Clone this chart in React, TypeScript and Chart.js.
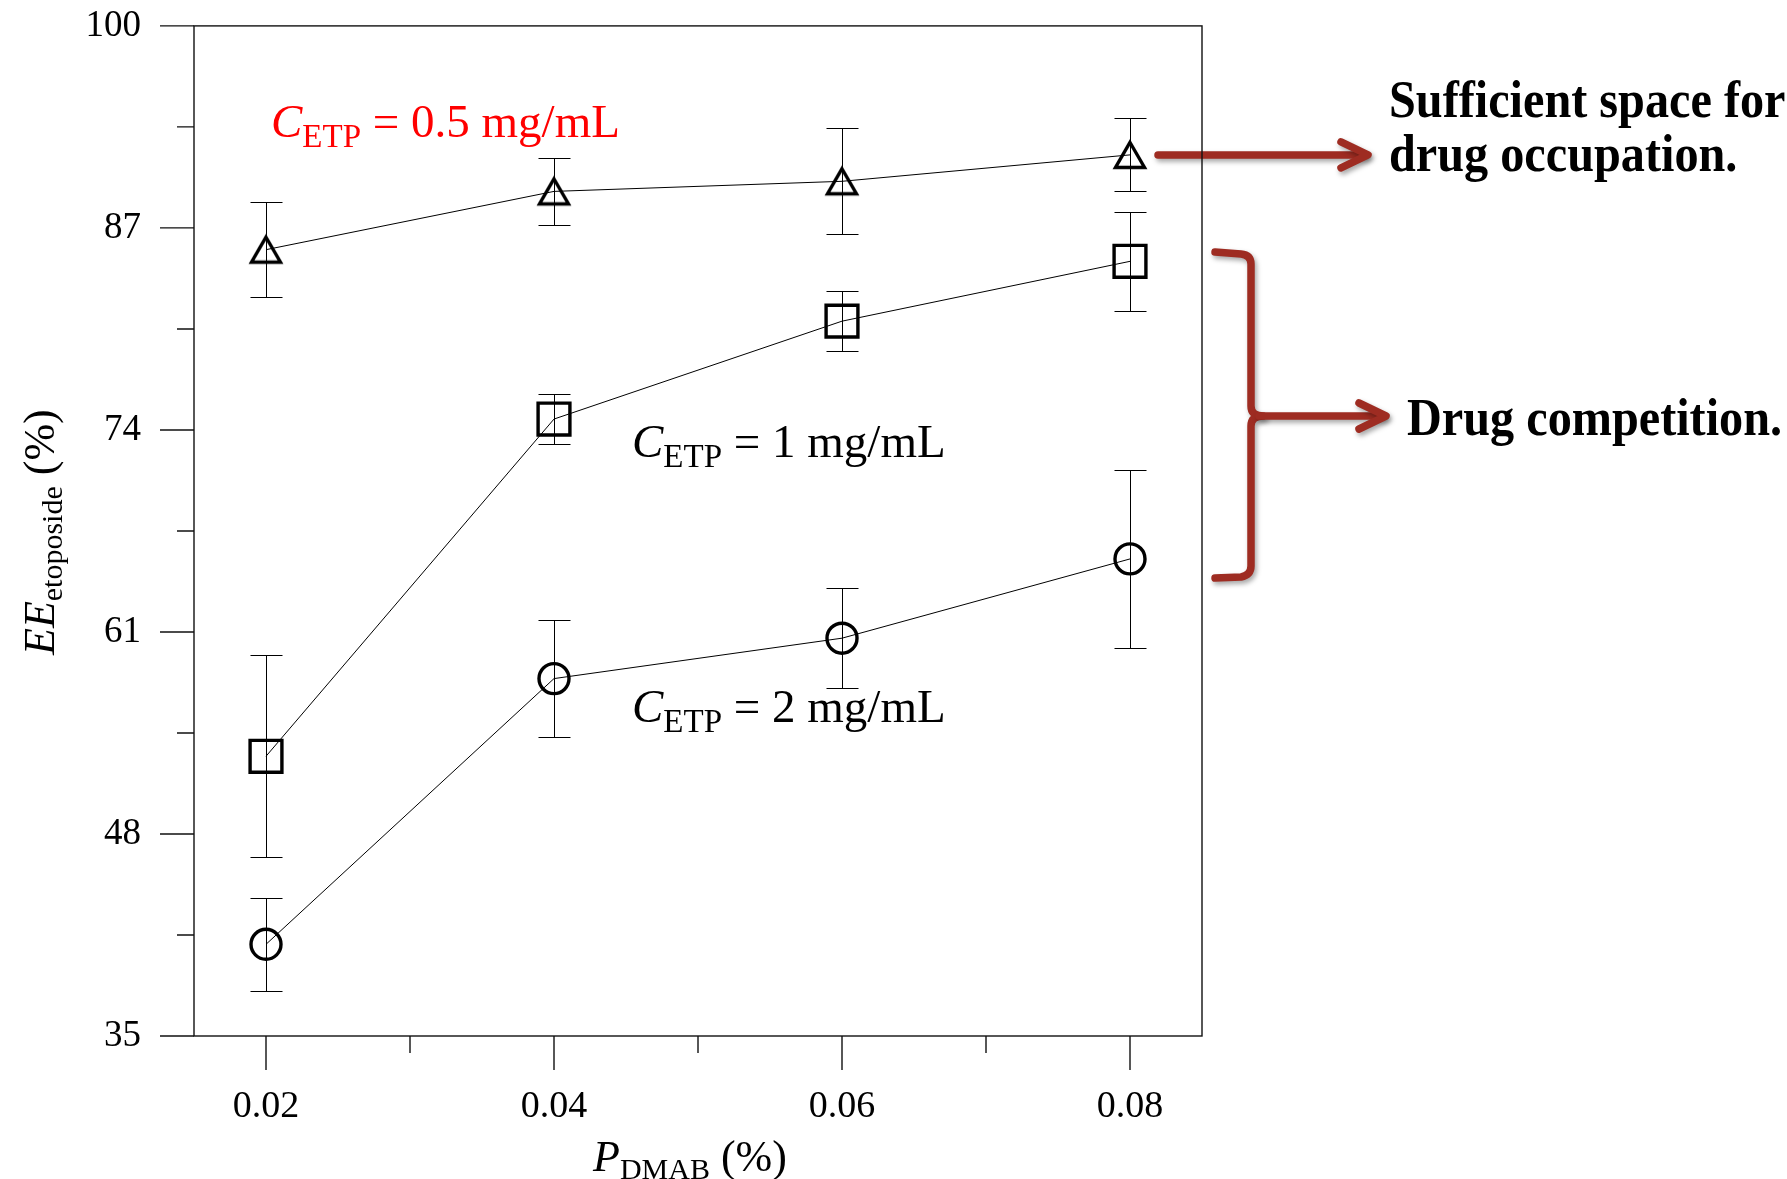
import React, { useEffect, useRef } from 'react';
import { Chart, registerables } from 'chart.js';

Chart.register(...registerables);

// Entrapment efficiency of etoposide vs. DMAB concentration
const pdmab = [0.02, 0.04, 0.06, 0.08];

const ee05 = [85.6, 89.35, 90.0, 91.7];
const err05 = [3.05, 2.15, 3.4, 2.35];

const ee1 = [53.0, 74.7, 81.0, 84.85];
const err1 = [6.5, 1.6, 1.95, 3.2];

const ee2 = [40.9, 58.0, 60.6, 65.7];
const err2 = [3.0, 3.75, 3.2, 5.75];

const xTickValues = [0.02, 0.03, 0.04, 0.05, 0.06, 0.07, 0.08];
const xTickLabels = ['0.02', '', '0.04', '', '0.06', '', '0.08'];
const yTickValues = [35, 41.5, 48, 54.5, 61, 67.5, 74, 80.5, 87, 93.5, 100];
const yTickLabels = ['35', '', '48', '', '61', '', '74', '', '87', '', '100'];

const seriesErrors = [err05, err1, err2];

const W = 1787;
const H = 1179;
const SERIF = '"Liberation Serif", "Times New Roman", serif';
const ACCENT = 'rgb(158,44,34)';

type Run = { text: string; font: string; dy?: number };

function drawRuns(ctx: CanvasRenderingContext2D, x: number, y: number, runs: Run[]) {
  let cx = x;
  for (const r of runs) {
    ctx.font = r.font;
    ctx.fillText(r.text, cx, y + (r.dy || 0));
    cx += ctx.measureText(r.text).width;
  }
}

function makeTriangle(): HTMLCanvasElement {
  const c = document.createElement('canvas');
  c.width = 46;
  c.height = 46;
  const g = c.getContext('2d')!;
  g.strokeStyle = '#000';
  g.lineWidth = 3.4;
  g.lineJoin = 'miter';
  g.beginPath();
  g.moveTo(23, 23 - 12.5);
  g.lineTo(23 + 14.5, 23 + 12.5);
  g.lineTo(23 - 14.5, 23 + 12.5);
  g.closePath();
  g.stroke();
  return c;
}

function arrowHead(ctx: CanvasRenderingContext2D, tipX: number, y: number) {
  ctx.beginPath();
  ctx.moveTo(tipX - 27, y - 13);
  ctx.lineTo(tipX, y);
  ctx.lineTo(tipX - 27, y + 13);
  ctx.stroke();
}

const errorBarPlugin = {
  id: 'errorBars',
  afterDatasetsDraw(chart: any) {
    const ctx = chart.ctx as CanvasRenderingContext2D;
    const xs = chart.scales.x;
    const ys = chart.scales.y;
    ctx.save();
    ctx.strokeStyle = '#000';
    ctx.lineWidth = 1;
    chart.data.datasets.forEach((ds: any, di: number) => {
      const errs = seriesErrors[di];
      ds.data.forEach((p: any, i: number) => {
        const x = Math.round(xs.getPixelForValue(p.x)) + 0.5;
        const yt = Math.round(ys.getPixelForValue(p.y + errs[i])) + 0.5;
        const yb = Math.round(ys.getPixelForValue(p.y - errs[i])) + 0.5;
        ctx.beginPath();
        ctx.moveTo(x, yt);
        ctx.lineTo(x, yb);
        ctx.moveTo(x - 16, yt);
        ctx.lineTo(x + 16, yt);
        ctx.moveTo(x - 16, yb);
        ctx.lineTo(x + 16, yb);
        ctx.stroke();
      });
    });
    ctx.restore();
  },
};

const decorPlugin = {
  id: 'decor',
  afterDraw(chart: any) {
    const ctx = chart.ctx as CanvasRenderingContext2D;
    const { left, right, top, bottom } = chart.chartArea;
    const xs = chart.scales.x;
    const ys = chart.scales.y;

    ctx.save();
    ctx.textAlign = 'left';
    ctx.textBaseline = 'alphabetic';

    // series labels
    ctx.fillStyle = '#ff0000';
    drawRuns(ctx, 271, 137, [
      { text: 'C', font: `italic 47px ${SERIF}` },
      { text: 'ETP', font: `33px ${SERIF}`, dy: 10 },
      { text: ' = 0.5 mg/mL', font: `47px ${SERIF}` },
    ]);
    ctx.fillStyle = '#000';
    drawRuns(ctx, 632, 457, [
      { text: 'C', font: `italic 47px ${SERIF}` },
      { text: 'ETP', font: `33px ${SERIF}`, dy: 10 },
      { text: ' = 1 mg/mL', font: `47px ${SERIF}` },
    ]);
    drawRuns(ctx, 632, 722, [
      { text: 'C', font: `italic 47px ${SERIF}` },
      { text: 'ETP', font: `33px ${SERIF}`, dy: 10 },
      { text: ' = 2 mg/mL', font: `47px ${SERIF}` },
    ]);

    // axis titles
    drawRuns(ctx, 593, 1171, [
      { text: 'P', font: `italic 44px ${SERIF}` },
      { text: 'DMAB', font: `30px ${SERIF}`, dy: 8 },
      { text: ' (%)', font: `44px ${SERIF}` },
    ]);
    ctx.save();
    ctx.translate(54, 655);
    ctx.rotate(-Math.PI / 2);
    drawRuns(ctx, 0, 0, [
      { text: 'EE', font: `italic 44px ${SERIF}` },
      { text: 'etoposide', font: `30px ${SERIF}`, dy: 8 },
      { text: ' (%)', font: `44px ${SERIF}` },
    ]);
    ctx.restore();

    // side notes
    ctx.save();
    ctx.translate(1389, 0);
    ctx.scale(0.91, 1);
    ctx.font = `bold 53px ${SERIF}`;
    ctx.fillText('Sufficient space for', 0, 117);
    ctx.fillText('drug occupation.', 0, 171);
    ctx.fillText('Drug competition.', (1407 - 1389) / 0.91, 435);
    ctx.restore();

    // arrows and bracket
    ctx.save();
    ctx.strokeStyle = ACCENT;
    ctx.lineWidth = 7.5;
    ctx.lineCap = 'round';
    ctx.lineJoin = 'round';
    ctx.shadowColor = 'rgba(0,0,0,0.35)';
    ctx.shadowBlur = 5;
    ctx.shadowOffsetX = 2;
    ctx.shadowOffsetY = 3;

    const yArrow = ys.getPixelForValue(ee05[3]);
    ctx.beginPath();
    ctx.moveTo(1158, yArrow);
    ctx.lineTo(1365, yArrow);
    ctx.stroke();
    arrowHead(ctx, 1368, yArrow);

    const bx = 1251;
    const bTop = 252;
    const bBot = 578;
    const bMid = 416;
    ctx.beginPath();
    ctx.moveTo(1215, bTop);
    ctx.lineTo(1241, bTop + 2);
    ctx.quadraticCurveTo(bx, bTop + 3, bx, bTop + 12);
    ctx.lineTo(bx, bMid - 10);
    ctx.quadraticCurveTo(bx, bMid, bx + 12, bMid);
    ctx.quadraticCurveTo(bx, bMid, bx, bMid + 10);
    ctx.lineTo(bx, bBot - 12);
    ctx.quadraticCurveTo(bx, bBot - 3, bx - 10, bBot - 1);
    ctx.lineTo(1215, bBot);
    ctx.stroke();

    ctx.beginPath();
    ctx.moveTo(bx + 8, bMid);
    ctx.lineTo(1383, bMid);
    ctx.stroke();
    arrowHead(ctx, 1386, bMid);
    ctx.restore();

    // frame and tick marks
    ctx.strokeStyle = '#111';
    ctx.lineWidth = 1.4;
    ctx.strokeRect(left, top, right - left, bottom - top);
    ctx.beginPath();
    yTickValues.forEach((v, i) => {
      const y = ys.getPixelForValue(v);
      const len = yTickLabels[i] ? 34 : 17;
      ctx.moveTo(left - len, y);
      ctx.lineTo(left, y);
    });
    xTickValues.forEach((v, i) => {
      const x = xs.getPixelForValue(v);
      const len = xTickLabels[i] ? 34 : 17;
      ctx.moveTo(x, bottom);
      ctx.lineTo(x, bottom + len);
    });
    ctx.stroke();
    ctx.restore();
  },
};

export default function App() {
  const canvasRef = useRef<HTMLCanvasElement | null>(null);

  useEffect(() => {
    const canvas = canvasRef.current;
    if (!canvas) return;
    const tri = makeTriangle();

    const series = (ys: number[]) => pdmab.map((x, i) => ({ x, y: ys[i] }));
    const base = {
      borderColor: '#000',
      borderWidth: 1,
      pointBorderColor: '#000',
      pointBackgroundColor: 'rgba(0,0,0,0)',
      pointBorderWidth: 3.4,
      showLine: true,
      tension: 0,
      fill: false,
    };

    // hidden tick marks only reserve the gap between axis line and labels
    const hiddenGrid = (len: number) => ({
      display: true,
      drawOnChartArea: false,
      drawTicks: true,
      tickLength: len,
      tickColor: 'rgba(0,0,0,0)',
    });

    const chart = new Chart(canvas, {
      type: 'line',
      data: {
        datasets: [
          { ...base, label: '0.5 mg/mL', data: series(ee05), pointStyle: tri as any, pointRadius: 15 },
          { ...base, label: '1 mg/mL', data: series(ee1), pointStyle: 'rect', pointRadius: 22.5 },
          { ...base, label: '2 mg/mL', data: series(ee2), pointStyle: 'circle', pointRadius: 15 },
        ],
      },
      options: {
        animation: false,
        responsive: false,
        maintainAspectRatio: false,
        devicePixelRatio: 1,
        events: [],
        layout: { padding: { left: 0, top: 25, right: W - 1202, bottom: 0 } },
        plugins: { legend: { display: false }, tooltip: { enabled: false } },
        scales: {
          x: {
            type: 'linear',
            position: 'bottom',
            min: 0.015,
            max: 0.085,
            grid: hiddenGrid(48),
            border: { display: false },
            ticks: {
              color: '#000',
              font: { family: SERIF, size: 38 },
              padding: 0,
              autoSkip: false,
              maxRotation: 0,
              callback: (_v: any, i: number) => xTickLabels[i],
            },
            afterBuildTicks: (s: any) => {
              s.ticks = xTickValues.map((value) => ({ value }));
            },
            afterFit: (s: any) => {
              s.height = H - 1036;
            },
          },
          y: {
            type: 'linear',
            position: 'left',
            min: 35,
            max: 100,
            grid: hiddenGrid(53),
            border: { display: false },
            ticks: {
              color: '#000',
              font: { family: SERIF, size: 37 },
              padding: 0,
              autoSkip: false,
              callback: (_v: any, i: number) => yTickLabels[i],
            },
            afterBuildTicks: (s: any) => {
              s.ticks = yTickValues.map((value) => ({ value }));
            },
            afterFit: (s: any) => {
              s.width = 194;
            },
          },
        },
      } as any,
      plugins: [errorBarPlugin, decorPlugin],
    });

    return () => chart.destroy();
  }, []);

  return (
    <div style={{ position: 'absolute', left: 0, top: 0, width: W, height: H, background: '#fff' }}>
      <canvas ref={canvasRef} width={W} height={H} style={{ display: 'block', width: W, height: H }} />
    </div>
  );
}
